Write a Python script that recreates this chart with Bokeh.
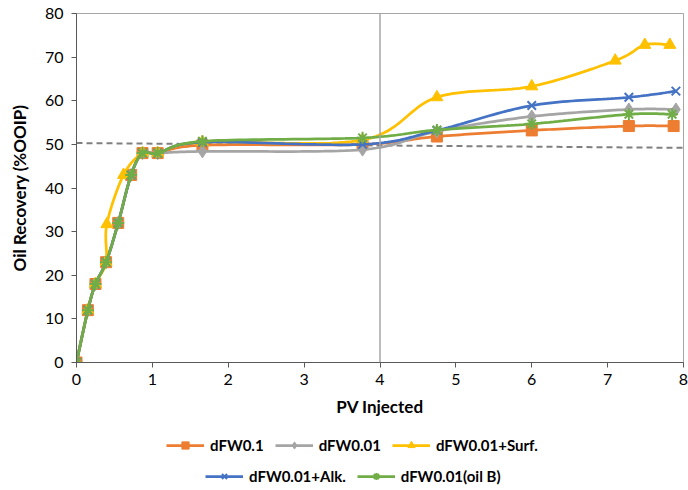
import numpy as np
from bokeh.plotting import figure
from bokeh.layouts import column
from bokeh.models import Legend, LegendItem, Span, FixedTicker
from bokeh.embed import file_html
from bokeh.resources import INLINE

# ---------------- data ----------------
x_fw01 = [0, 0.15, 0.25, 0.39, 0.55, 0.72, 0.87, 1.07, 1.66, 3.77, 4.75, 6.0, 7.28, 7.87]
y_fw01 = [0, 12, 18, 23, 32, 43, 48, 48, 49.8, 50.0, 51.8, 53.2, 54.2, 54.2]

x_fw001 = [0, 0.15, 0.25, 0.39, 0.55, 0.72, 0.87, 1.07, 1.66, 3.77, 4.75, 6.0, 7.28, 7.9]
y_fw001 = [0, 12, 18, 23, 32, 43, 48, 48, 48.4, 48.8, 53.0, 56.4, 58.0, 58.0]

x_surf = [0, 0.15, 0.25, 0.39, 0.40, 0.62, 0.87, 1.07, 1.66, 3.77, 4.75, 6.0, 7.1, 7.49, 7.82]
y_surf = [0, 12, 18, 23, 31.7, 43, 48, 48, 50.5, 51.0, 60.8, 63.3, 69.2, 72.8, 72.8]

x_alk = [0, 0.15, 0.25, 0.39, 0.55, 0.72, 0.87, 1.07, 1.66, 3.77, 4.75, 6.0, 7.28, 7.9]
y_alk = [0, 12, 18, 23, 32, 43, 48, 48, 50.5, 50.0, 53.2, 58.9, 60.8, 62.2]

x_oilb = [0, 0.15, 0.25, 0.39, 0.55, 0.72, 0.87, 1.07, 1.66, 3.77, 4.75, 6.0, 7.28, 7.85]
y_oilb = [0, 12, 18, 23, 32, 43, 48, 48, 50.7, 51.5, 53.3, 54.7, 56.9, 56.9]

trend_x = [0, 8]
trend_y = [50.3, 49.2]

x_ticks = [0, 1, 2, 3, 4, 5, 6, 7, 8]
y_ticks = [0, 10, 20, 30, 40, 50, 60, 70, 80]

series = [
    ("dFW0.1", x_fw01, y_fw01, "#ED7D31", "square", 11),
    ("dFW0.01", x_fw001, y_fw001, "#A5A5A5", "diamond", 13),
    ("dFW0.01+Surf.", x_surf, y_surf, "#FFC000", "triangle", 12),
    ("dFW0.01+Alk.", x_alk, y_alk, "#4472C4", "x", 12),
    ("dFW0.01(oil B)", x_oilb, y_oilb, "#70AD47", "asterisk", 12),
]

# ---------------- smoothing (rendering only) ----------------
SX, SY = 76.0, 4.36  # px per data unit, for screen-space smoothing


def smooth(xs, ys, n=24):
    P = np.column_stack([np.array(xs) * SX, np.array(ys) * SY])
    out = [P[0]]
    m = len(P)
    for i in range(m - 1):
        p0 = P[i - 1] if i > 0 else P[i]
        p1, p2 = P[i], P[i + 1]
        p3 = P[i + 2] if i + 2 < m else P[i + 1]
        c1 = p1 + (p2 - p0) / 6.0
        c2 = p2 - (p3 - p1) / 6.0
        t = np.linspace(0, 1, n)[1:, None]
        seg = ((1 - t) ** 3) * p1 + 3 * ((1 - t) ** 2) * t * c1 + 3 * (1 - t) * t ** 2 * c2 + t ** 3 * p2
        out.extend(seg)
    out = np.array(out)
    return out[:, 0] / SX, out[:, 1] / SY


FONT = "Lato"

p = figure(frame_width=607, frame_height=349, x_range=(0, 8), y_range=(0, 80),
           output_backend="svg", toolbar_location=None,
           min_border_left=76, min_border_right=5, min_border_top=13, min_border_bottom=62)
p.background_fill_color = "white"
p.border_fill_color = "white"
p.outline_line_color = "#A6A6A6"
p.outline_line_width = 1
p.xgrid.visible = False
p.ygrid.visible = False

for ax in (p.xaxis[0], p.yaxis[0]):
    ax.axis_line_color = "#595959"
    ax.major_tick_line_color = "#595959"
    ax.major_tick_in = 0
    ax.major_tick_out = 5
    ax.minor_tick_line_color = None
    ax.major_label_text_font = FONT
    ax.major_label_text_font_size = "16px"
    ax.major_label_text_color = "#000000"
    ax.axis_label_text_font = FONT
    ax.axis_label_text_font_style = "bold"
    ax.axis_label_text_font_size = "17px"
    ax.axis_label_text_color = "#000000"

p.xaxis.ticker = FixedTicker(ticks=x_ticks)
p.yaxis.ticker = FixedTicker(ticks=y_ticks)
p.xaxis.axis_label = "PV Injected"
p.yaxis.axis_label = "Oil Recovery (%OOIP)"
p.xaxis.major_label_standoff = 6
p.xaxis.axis_label_standoff = 8
p.yaxis.major_label_standoff = 8
p.yaxis.axis_label_standoff = 12

# vertical reference line at PV = 4
p.add_layout(Span(location=4, dimension="height", line_color="#A6A6A6", line_width=1.5))
# dashed trend line
p.line(trend_x, trend_y, line_color="#7F7F7F", line_width=2, line_dash="6 4")

# legend-only figure below the chart
lf = figure(width=688, height=65, x_range=(0, 1), y_range=(0, 1),
            output_backend="svg", toolbar_location=None,
            min_border=0, min_border_left=0, min_border_right=0, min_border_top=0, min_border_bottom=0)
lf.axis.visible = False
lf.grid.visible = False
lf.outline_line_color = None
lf.background_fill_color = "white"
lf.border_fill_color = "white"

hidden = [-5, -4]  # proxy glyphs sit outside the legend figure's ranges

items_row1, items_row2 = [], []
for k, (name, xs, ys, col, mk, sz) in enumerate(series):
    sx, sy = smooth(xs, ys)
    p.line(sx, sy, line_color=col, line_width=2.75)
    kw = dict(marker=mk, size=sz, line_color=col, fill_color=col)
    if mk in ("x", "asterisk"):
        kw["line_width"] = 2
    p.scatter(xs, ys, **kw)
    lln = lf.line(hidden, hidden, line_color=col, line_width=2.75)
    lsc = lf.scatter(hidden, hidden, **kw)
    item = LegendItem(label=name, renderers=[lln, lsc])
    (items_row1 if k < 3 else items_row2).append(item)

for items, loc in ((items_row1, (90, 35)), (items_row2, (129, 4))):
    lg = Legend(items=items, orientation="horizontal", location=loc,
                label_text_font=FONT, label_text_font_size="15px", label_text_font_style="bold",
                label_text_color="#000000",
                glyph_width=38, glyph_height=18, label_standoff=6, spacing=11,
                border_line_color=None, background_fill_alpha=0, padding=3, margin=0)
    lf.add_layout(lg, "center")

open("out.html", "w").write(file_html(column(p, lf, spacing=0), INLINE))
